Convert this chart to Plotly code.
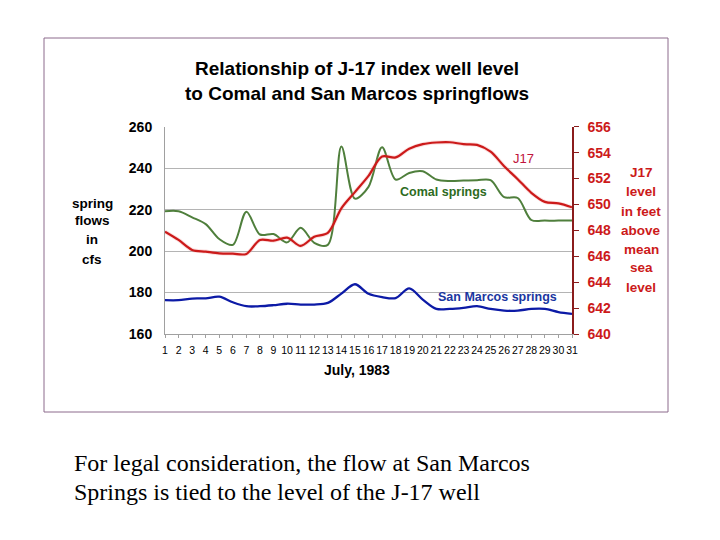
import plotly.graph_objects as go

days = list(range(1, 32))
day_labels = [str(d) for d in days]

comal_cfs = [219.2, 219.2, 216.3, 213.0, 205.8, 203.0, 219.0, 208.0, 208.2, 204.2,
             211.2, 204.0, 203.0, 250.5, 225.3, 231.0, 250.1, 234.5, 237.7, 238.5,
             234.5, 233.8, 234.0, 234.2, 234.2, 226.0, 225.6, 215.0, 214.7, 214.7, 214.7]

j17_level = [647.9, 647.26, 646.49, 646.36, 646.23, 646.2, 646.18, 647.26, 647.2, 647.44,
             646.8, 647.5, 647.8, 649.7, 650.95, 652.2, 653.7, 653.63, 654.3, 654.65,
             654.78, 654.8, 654.65, 654.6, 654.07, 652.95, 651.95, 650.9, 650.2, 650.08, 649.78]

sanmarcos_cfs = [176.3, 176.3, 177.1, 177.2, 178.0, 175.3, 173.4, 173.4, 173.9, 174.6,
                 174.2, 174.2, 175.0, 179.5, 184.0, 179.4, 177.8, 177.3, 182.0, 176.6,
                 172.1, 172.1, 172.6, 173.4, 172.1, 171.3, 171.3, 172.1, 172.1, 170.6, 169.7]

left_ticks = [160, 180, 200, 220, 240, 260]
right_ticks = [640, 642, 644, 646, 648, 650, 652, 654, 656]

W, H = 720, 540
OFF = 8  # page body margin offset


def px(x):
    return (x - OFF) / W


def py(y):
    return 1 - (y - OFF) / H


SANS = "Liberation Sans, Arial, sans-serif"
SERIF = "Liberation Serif, Times New Roman, serif"

fig = go.Figure()

fig.add_trace(go.Scatter(x=days, y=comal_cfs, mode="lines", name="Comal springs",
                         line=dict(color="#4f7f3c", width=2, shape="spline", smoothing=0.9),
                         yaxis="y"))
fig.add_trace(go.Scatter(x=days, y=j17_level, mode="lines", name="J17 glow",
                         line=dict(color="rgba(240,130,130,0.25)", width=4, shape="spline", smoothing=0.9),
                         yaxis="y2", showlegend=False))
fig.add_trace(go.Scatter(x=days, y=j17_level, mode="lines", name="J17",
                         line=dict(color="#cc1a1a", width=2.2, shape="spline", smoothing=0.9),
                         yaxis="y2"))
fig.add_trace(go.Scatter(x=days, y=sanmarcos_cfs, mode="lines", name="San Marcos springs",
                         line=dict(color="#0c1aa6", width=2.3, shape="spline", smoothing=0.9),
                         yaxis="y"))

x0, x1 = 165, 572
ytop, ybot = 126.7, 334

fig.update_layout(
    template="none",
    width=W, height=H,
    margin=dict(l=0, r=0, t=0, b=0),
    paper_bgcolor="white",
    plot_bgcolor="white",
    showlegend=False,
    xaxis=dict(
        domain=[px(x0), px(x1)],
        range=[1, 31],
        tickvals=days, ticktext=day_labels,
        tickangle=0,
        tickfont=dict(family=SANS, size=10.5, color="#000000"),
        ticks="outside", ticklen=3, tickcolor="#a0a0a0",
        showline=True, linecolor="#a0a0a0", linewidth=1,
        showgrid=False, zeroline=False, automargin=False,
        ticklabelstandoff=3,
    ),
    yaxis=dict(
        domain=[py(ybot), py(ytop)],
        range=[160, 260],
        tickvals=left_ticks,
        tickfont=dict(family=SANS, size=14, color="#000000", weight="bold"),
        showline=True, linecolor="#a0a0a0", linewidth=1,
        showgrid=True, gridcolor="#b4b4b4", gridwidth=1,
        zeroline=False, ticks="", automargin=False,
        ticklabelstandoff=9,
    ),
    yaxis2=dict(
        overlaying="y", side="right",
        range=[640, 656],
        tickvals=right_ticks,
        tickfont=dict(family=SANS, size=14, color="#cc1a1a", weight="bold"),
        showline=True, linecolor="#8b1c1c", linewidth=1.5,
        ticks="outside", ticklen=5, tickcolor="#8b1c1c", tickwidth=1,
        showgrid=False, zeroline=False, automargin=False,
        ticklabelstandoff=6,
    ),
)

ann = []


def text(x, y, s, size, color="#000000", bold=True, family=SANS, xanchor="center"):
    ann.append(dict(x=px(x), y=py(y), xref="paper", yref="paper", text=s, showarrow=False,
                    xanchor=xanchor, yanchor="middle",
                    font=dict(family=family, size=size, color=color,
                              weight="bold" if bold else "normal")))


# Title
text(357, 69, "Relationship of J-17 index well level", 19)
text(357, 93, "to Comal and San Marcos springflows", 19)

# Left axis label
for s, y in zip(["spring", "flows", "in", "cfs"], [203, 221, 240, 259]):
    text(92, y, s, 13.5)

# Right axis label
for s, y in zip(["J17", "level", "in feet", "above", "mean", "sea", "level"],
                [172, 191, 211, 230, 249, 268, 287]):
    text(641, y, s, 13.5, color="#cc1a1a")

# X axis title
text(357, 370, "July, 1983", 14)

# Series labels
text(523, 158, "J17", 13, color="#c0143c", bold=False)
text(444, 192, "Comal springs", 12.5, color="#2e6b1e")
text(497, 297, "San Marcos springs", 12.5, color="#1a36a0")

# Bottom caption
text(72, 463, "For legal consideration, the flow at San Marcos", 24, bold=False,
     family=SERIF, xanchor="left")
text(72, 492, "Springs is tied to the level of the J-17 well", 24, bold=False,
     family=SERIF, xanchor="left")

fig.update_layout(annotations=ann)

# Outer frame
fig.add_shape(type="rect", xref="paper", yref="paper",
              x0=px(44), x1=px(668), y0=py(412), y1=py(38),
              line=dict(color="#8c6a8c", width=1), fillcolor="rgba(0,0,0,0)")

fig.write_html("out.html")
